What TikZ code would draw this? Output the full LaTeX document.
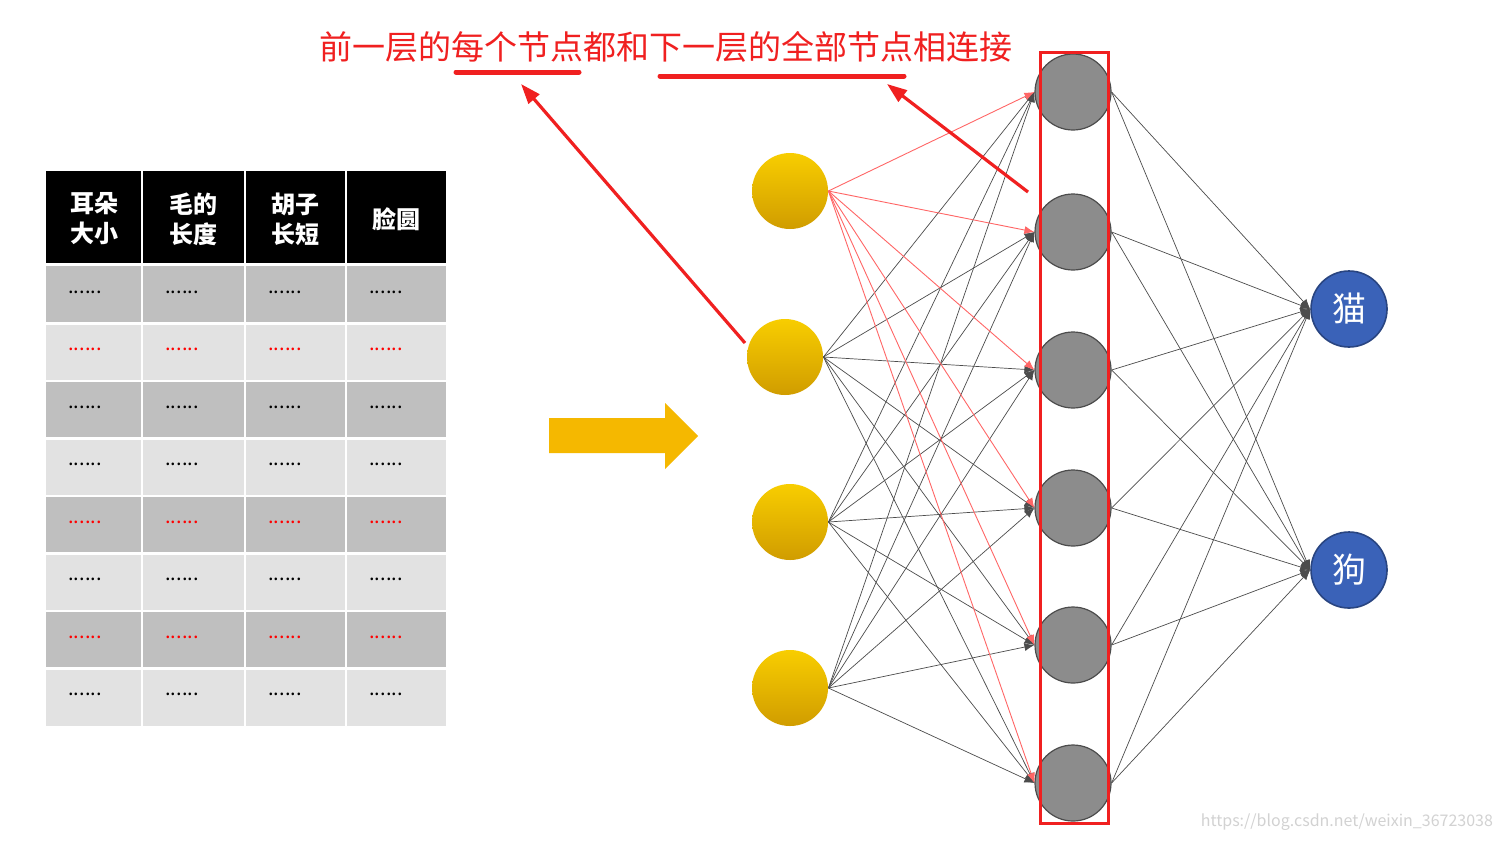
\documentclass[tikz,border=0pt]{standalone}
\usepackage{fontspec}
\setmainfont{Noto Sans CJK SC}
\usetikzlibrary{arrows.meta}
\definecolor{dk}{HTML}{BFBFBF}
\definecolor{lt}{HTML}{E2E2E2}
\definecolor{yel}{HTML}{F5B800}
\definecolor{blu}{HTML}{3A62B8}
\definecolor{gr}{HTML}{8C8C8C}
\definecolor{rd}{HTML}{F02020}
\begin{document}
\begin{tikzpicture}[x=0.5pt,y=-0.5pt,
 inp/.style={circle,minimum size=38pt,inner sep=0,shading=axis,top color=yel!70!yellow,bottom color=yel!85!black,draw=none},
 hid/.style={circle,minimum size=38pt,inner sep=0,fill=gr,draw=gray!60!black,line width=0.6pt},
 outn/.style={circle,minimum size=38pt,inner sep=0,fill=blu,draw=blu!70!black,line width=0.8pt,text=white,font=\fontsize{17}{17}\selectfont},
 e/.style={draw=black!70,line width=0.35pt,-{Latex[length=5pt,width=4pt]}},
 er/.style={draw=red!60,line width=0.45pt,-{Latex[length=5pt,width=4pt]}},
 hd/.style={text=white,font=\bfseries\fontsize{12}{15}\selectfont,align=center},
 dots/.style={font=\fontsize{10}{10}\selectfont}]
\useasboundingbox (0,0) rectangle (1507,841);
\fill[white] (0,0) rectangle (1507,841);
% table
\def\cx{{46,142,245,346,446}}
\fill[black] (46,171) rectangle (446,263);
\foreach \i/\c in {0/dk,1/lt,2/dk,3/lt,4/dk,5/lt,6/dk,7/lt}{
  \fill[\c] (46,{266+57.5*\i}) rectangle (446,{266+57.5*(\i+1)});}
\foreach \x in {142,245,346}{\draw[white,line width=1.2pt] (\x,171) -- (\x,726);}
\foreach \i in {1,...,7}{\draw[white,line width=1.2pt] (46,{266+57.5*\i}) -- (446,{266+57.5*\i});}
\node[hd] (h1) at (94,219) {耳朵\\大小};
\node[hd] (h2) at (193,219) {毛的\\长度};
\node[hd] (h3) at (295,219) {胡子\\长短};
\node[hd] (h4) at (396,219) {脸圆};
\foreach \i/\c in {0/black,1/red,2/black,3/black,4/red,5/black,6/red,7/black}{
  \foreach \x [count=\k] in {85,182,285,386}{
    \node[dots,text=\c] (d\i\k) at (\x,{292+57.5*\i}) {......};}}
% yellow arrow
\fill[yel] (549,418) -- (665,418) -- (665,403) -- (698,436) -- (665,469) -- (665,453) -- (549,453) -- cycle;
% nodes
\node[inp] (i1) at (790,191) {};
\node[inp] (i2) at (785,357) {};
\node[inp] (i3) at (790,522) {};
\node[inp] (i4) at (790,688) {};
\foreach \y [count=\k] in {92,232,370,508,645,783}{\node[hid] (h\k) at (1073,\y) {};}
\node[outn] (o1) at (1349,309) {猫};
\node[outn] (o2) at (1349,570) {狗};
\foreach \a in {2,3,4}{\foreach \b in {1,...,6}{\draw[e] (i\a.east) -- (h\b.west);}}
\foreach \b in {1,...,6}{\draw[er] (i1.east) -- (h\b.west);}
\foreach \b in {1,...,6}{\foreach \c in {1,2}{\draw[e] (h\b.east) -- (o\c.west);}}
% red box and title
\draw[rd,line width=1.5pt] (1040,52) rectangle (1108,823);
\node[text=rd,font=\fontsize{16.5}{16.5}\selectfont] (t) at (666,47) {前一层的每个节点都和下一层的全部节点相连接};
\coordinate (u1a) at (456,72); \coordinate (u1b) at (579,72);
\coordinate (u2a) at (660,76); \coordinate (u2b) at (904,76);
\draw[rd,line width=2.5pt,line cap=round] (u1a) -- (u1b);
\draw[rd,line width=2.5pt,line cap=round] (u2a) -- (u2b);
\coordinate (a1s) at (745,343); \coordinate (a1e) at (521,84);
\coordinate (a2s) at (1028,192); \coordinate (a2e) at (887,84);
\draw[rd,line width=1.6pt,-{Triangle[length=10pt,width=7pt]}] (a1s) -- (a1e);
\draw[rd,line width=1.6pt,-{Triangle[length=10pt,width=7pt]}] (a2s) -- (a2e);
\node[text=gray!35,font=\fontsize{8}{8}\selectfont,anchor=east] (wm) at (1500,822) {https://blog.csdn.net/weixin\_36723038};
\end{tikzpicture}
\end{document}
